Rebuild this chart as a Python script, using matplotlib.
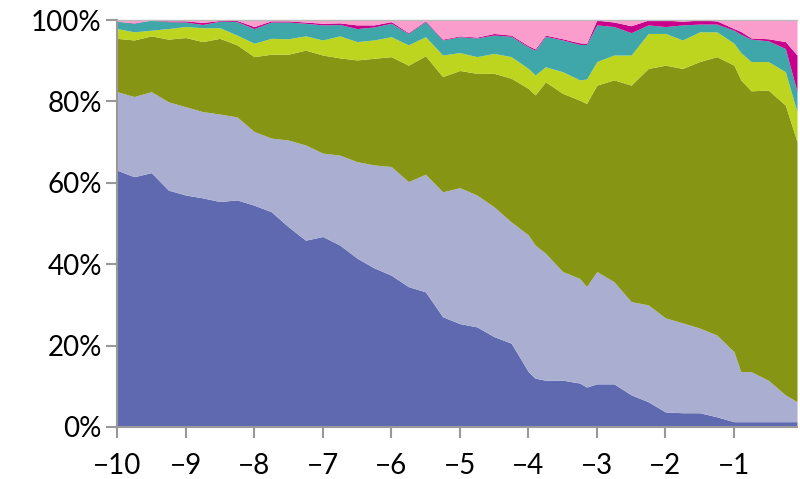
#!/usr/bin/env python3

import numpy as np
import matplotlib
matplotlib.use('Agg')
import matplotlib.pyplot as plt

plt.rcParams['font.family'] = ['Lato', 'DejaVu Sans']

# years before present (quarterly-ish reads, plus a few extra kinks)
years = [-10, -9.75, -9.5, -9.25, -9, -8.75, -8.5, -8.25, -8, -7.75,
         -7.5, -7.25, -7, -6.75, -6.5, -6.25, -6, -5.75, -5.5, -5.25,
         -5, -4.75, -4.5, -4.25, -4, -3.9, -3.75, -3.5, -3.25, -3.15,
         -3, -2.75, -2.5, -2.25, -2, -1.75, -1.5, -1.25, -1, -0.9,
         -0.75, -0.5, -0.25, -0.08]

# cumulative share (%) at the top of each band, bottom band first
top_blue = [63.1, 61.5, 62.5, 58.2, 57.0, 56.3, 55.4, 55.8, 54.5, 52.9,
            49.2, 45.9, 46.8, 44.7, 41.5, 39.1, 37.3, 34.5, 33.2, 27.1,
            25.4, 24.6, 22.2, 20.6, 13.6, 12.0, 11.5, 11.5, 10.8, 9.8,
            10.6, 10.6, 7.9, 6.2, 3.7, 3.5, 3.5, 2.5, 1.3, 1.3,
            1.3, 1.3, 1.3, 1.3]
top_lavender = [82.4, 81.2, 82.4, 79.9, 78.7, 77.5, 76.9, 76.2, 72.6, 71.0,
                70.5, 69.3, 67.3, 66.8, 65.2, 64.4, 64.0, 60.3, 62.1, 57.8,
                58.8, 57.0, 54.1, 50.4, 47.2, 44.7, 42.7, 38.2, 36.5, 34.5,
                38.2, 35.7, 30.8, 30.0, 26.8, 25.6, 24.3, 22.6, 18.5, 13.6,
                13.6, 11.5, 7.9, 6.2]
top_olive = [95.5, 95.1, 96.1, 95.3, 95.7, 94.7, 95.5, 93.9, 91.0, 91.6,
             91.6, 92.6, 91.4, 90.7, 90.2, 90.6, 91.0, 88.9, 91.2, 86.1,
             87.6, 86.9, 86.9, 85.7, 83.2, 81.6, 84.8, 82.0, 80.3, 79.5,
             84.0, 85.3, 84.0, 88.1, 88.9, 88.1, 89.8, 91.0, 88.9, 85.3,
             82.6, 82.8, 79.1, 70.1]
top_lime = [97.9, 97.1, 97.5, 97.9, 98.4, 98.1, 98.1, 96.3, 94.3, 95.5,
            95.4, 96.1, 95.1, 96.1, 94.7, 95.1, 95.9, 93.9, 95.9, 91.4,
            92.0, 91.0, 91.8, 91.0, 88.1, 86.5, 88.5, 87.3, 85.3, 85.5,
            89.8, 91.4, 91.4, 96.7, 96.7, 95.1, 97.1, 97.1, 94.3, 92.0,
            89.8, 89.8, 87.3, 77.5]
top_teal = [99.7, 99.2, 100.0, 99.6, 99.5, 98.9, 99.7, 99.6, 97.9, 99.5,
            99.5, 99.2, 98.8, 98.9, 97.9, 98.3, 99.2, 96.7, 99.6, 95.1,
            95.9, 95.6, 96.3, 96.0, 93.4, 92.6, 96.0, 95.1, 94.0, 94.0,
            98.8, 98.4, 96.9, 98.8, 98.4, 98.8, 99.0, 99.0, 97.5, 96.5,
            95.3, 94.9, 93.0, 82.4]
top_magenta = [99.7, 99.3, 100.0, 99.8, 99.8, 99.4, 99.9, 99.9, 98.4, 99.8,
               99.8, 99.5, 99.2, 99.3, 98.8, 98.8, 99.6, 96.9, 99.8, 95.3,
               96.1, 95.8, 96.7, 96.3, 93.7, 92.9, 96.3, 95.4, 94.4, 94.3,
               100.0, 99.5, 98.6, 100.0, 100.0, 99.7, 100.0, 99.8, 97.9, 97.2,
               95.6, 95.4, 94.7, 91.4]
top_pink = [100.0] * len(years)

yticks = [0, 20, 40, 60, 80, 100]
xticks = [-10, -9, -8, -7, -6, -5, -4, -3, -2, -1]


def main():
    x = np.array(years)
    levels = [np.zeros(len(x)), top_blue, top_lavender, top_olive, top_lime,
              top_teal, top_magenta, top_pink]
    colors = ['#5f69b0', '#aaaed1', '#879514', '#bdd51e', '#3fa7a9',
              '#c8008c', '#fa9dcc']

    fig = plt.figure(figsize=(8, 4.79), dpi=100)
    ax = fig.add_axes([0.14625, 0.1086, 0.85, 0.8496])

    for i, c in enumerate(colors):
        ax.fill_between(x, levels[i], levels[i + 1], color=c, lw=0)

    ax.set_xlim(-10, -0.08)
    ax.set_ylim(0, 100)
    ax.set_yticks(yticks)
    ax.set_yticklabels(['%d%%' % v for v in yticks])
    ax.set_xticks(xticks)
    ax.set_xticklabels(['\u2212%d' % abs(v) for v in xticks])

    ax.spines['right'].set_visible(False)
    for side in ('left', 'bottom'):
        ax.spines[side].set_color('#999999')
        ax.spines[side].set_linewidth(1.5)
    ax.spines['top'].set_linewidth(1.0)
    ax.spines['top'].set_color('#bbbbbb')
    ax.tick_params(axis='both', colors='#999999', width=1.5, length=8,
                   labelsize=20, labelcolor='black')
    ax.tick_params(axis='x', pad=11)
    ax.tick_params(axis='y', pad=3)

    fig.savefig('out.png', dpi=100)


if __name__ == "__main__":
    main()
